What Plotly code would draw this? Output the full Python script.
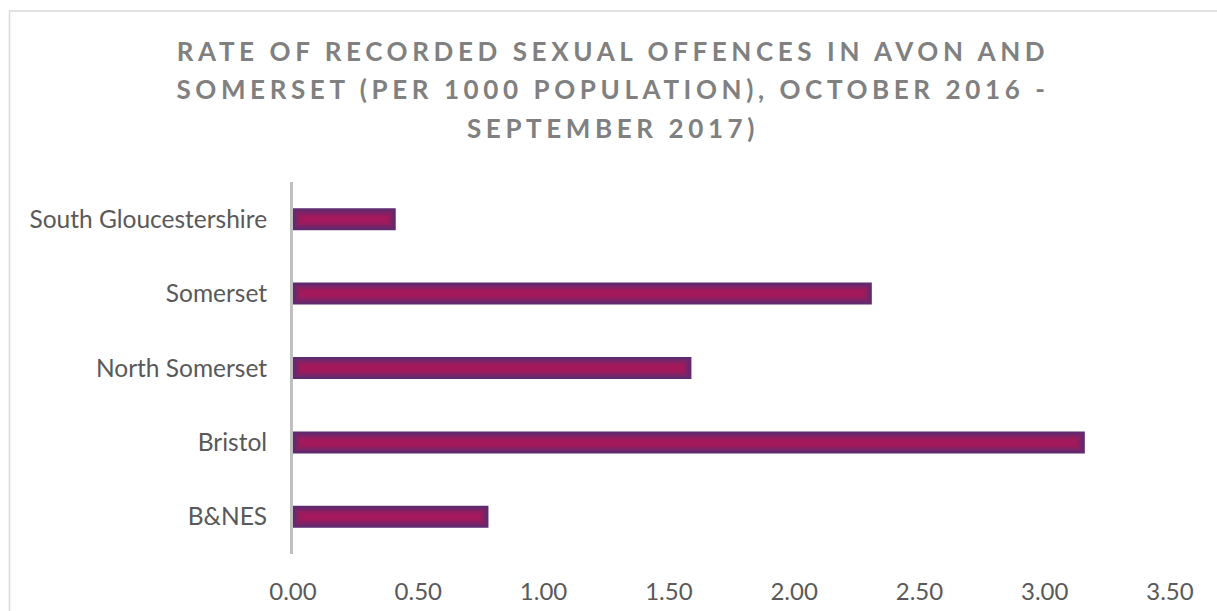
import plotly.graph_objects as go

# Recorded sexual offences per 1000 population, by area
areas = ["B&NES", "Bristol", "North Somerset", "Somerset", "South Gloucestershire"]
rates = [0.78, 3.16, 1.59, 2.31, 0.41]
x_ticks = [0.0, 0.5, 1.0, 1.5, 2.0, 2.5, 3.0, 3.5]
x_tick_labels = ["0.00", "0.50", "1.00", "1.50", "2.00", "2.50", "3.00", "3.50"]

title_lines = [
    "RATE OF RECORDED SEXUAL OFFENCES IN AVON AND",
    "SOMERSET (PER 1000 POPULATION), OCTOBER 2016 -",
    "SEPTEMBER 2017)",
]

W, H = 1217, 611
M_L, M_R, M_T, M_B = 293, 47, 182, 57
X_MAX = 3.5
plot_w = W - M_L - M_R
plot_h = H - M_T - M_B
px_per_unit = plot_w / X_MAX
px_per_cat = plot_h / len(areas)

BAR_PX = 22          # bar thickness in pixels
EDGE = (91, 44, 112)   # purple rim of the bar fill
CORE = (163, 25, 91)   # magenta centre of the bar fill
STEPS = 9            # rim-to-centre shading layers


def mix(t):
    r, g, b = (round(EDGE[i] + (CORE[i] - EDGE[i]) * t) for i in range(3))
    return f"rgb({r},{g},{b})"


fig = go.Figure()
for k in range(STEPS):
    inset = k  # pixels in from every side of the bar
    dx = inset / px_per_unit
    fig.add_trace(go.Bar(
        y=areas,
        x=[max(v - 2 * dx, 0) for v in rates],
        base=[dx] * len(rates),
        orientation="h",
        width=(BAR_PX - 2 * inset) / px_per_cat,
        marker=dict(color=mix(k / (STEPS - 1)), line=dict(width=0)),
        showlegend=False,
        hoverinfo="skip" if k else None,
    ))

title_html = "<br>".join(
    f'<span style="font-size:26px;letter-spacing:4.6px">{line}</span>' for line in title_lines
)

fig.update_layout(
    width=W, height=H,
    margin=dict(l=M_L, r=M_R, t=M_T, b=M_B, autoexpand=False),
    paper_bgcolor="white", plot_bgcolor="white",
    barmode="overlay",
    title=dict(
        text=title_html,
        x=613 / W, xanchor="center",
        y=1 - 61 / H, yanchor="middle", yref="container",
        font=dict(family="Lato", size=29.6, color="#808080", weight="bold"),
    ),
    xaxis=dict(
        range=[0, X_MAX], tickvals=x_ticks, ticktext=x_tick_labels,
        showgrid=False, zeroline=False, showline=False, ticks="",
        ticklabelstandoff=21, automargin=False,
        tickfont=dict(family="Lato", size=24, color="#595959"),
        fixedrange=True,
    ),
    yaxis=dict(
        categoryorder="array", categoryarray=areas,
        showgrid=False, zeroline=False, showline=True,
        linecolor="#bfbfbf", linewidth=3, ticks="",
        ticklabelstandoff=18, automargin=False,
        tickfont=dict(family="Lato", size=24.5, color="#595959"),
        fixedrange=True,
    ),
    shapes=[dict(
        type="rect", xref="paper", yref="paper",
        x0=(9.5 - M_L) / plot_w, x1=(W + 20 - M_L) / plot_w,
        y0=-(M_B + 20) / plot_h, y1=(H - M_B - 11) / plot_h,
        line=dict(color="#d9d9d9", width=1.5), fillcolor="rgba(0,0,0,0)",
        layer="below",
    )],
)

fig.write_html("out.html")
